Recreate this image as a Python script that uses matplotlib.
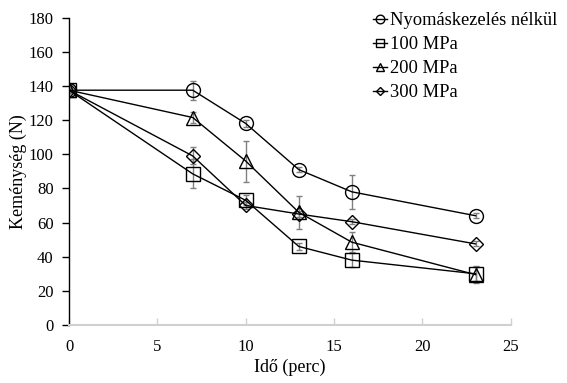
import matplotlib
matplotlib.use("Agg")
import matplotlib.pyplot as plt
from matplotlib.lines import Line2D

plt.rcParams['font.family'] = ['Liberation Serif', 'DejaVu Serif']

# Time points (minutes)
time_min = [0, 7, 10, 13, 16, 23]

series_labels = ["Nyomáskezelés nélkül", "100 MPa", "200 MPa", "300 MPa"]

hardness_control = [137.5, 137.5, 118, 91, 78, 64]
hardness_100 = [137.5, 88.5, 73, 46, 38, 30]
hardness_200 = [137.5, 121.5, 96, 66, 48.5, 29.5]
hardness_300 = [137.5, 99, 70, 65, 60.5, 47.5]

err_control = [1.5, 5.5, 2, 1.5, 10, 1.5]
err_100 = [1.5, 8.5, 3, 2, 4, 4]
err_200 = [1.5, 3, 12, 9.5, 6, 5]
err_300 = [1.5, 5, 2, 1.5, 1.5, 1.5]

values = [hardness_control, hardness_100, hardness_200, hardness_300]
errors = [err_control, err_100, err_200, err_300]
markers = ["o", "s", "^", "D"]
msizes = [10, 9.5, 10, 7]

fig = plt.figure(figsize=(5.67, 3.83), dpi=100)
ax = fig.add_axes([0.1217, 0.1514, 0.7793, 0.8026])

for y, e, m, ms in zip(values, errors, markers, msizes):
    ax.errorbar(time_min, y, yerr=e, fmt="none", ecolor="#808080",
                elinewidth=1.0, capsize=2.5, capthick=1.0, zorder=2)
    ax.plot(time_min, y, color="black", lw=1.0, marker=m, ms=ms,
            mfc="none", mec="black", mew=1.0, zorder=3)

ax.set_xlim(0, 25)
ax.set_ylim(0, 180)
ax.set_xticks([0, 5, 10, 15, 20, 25])
ax.set_yticks(range(0, 181, 20))

for s in ("top", "right"):
    ax.spines[s].set_visible(False)
ax.spines["left"].set_color("black")
ax.spines["left"].set_linewidth(1.0)
ax.spines["bottom"].set_color("#d0d0d0")
ax.spines["bottom"].set_linewidth(1.5)

ax.tick_params(axis="y", direction="out", length=5, width=1.0, color="black",
               labelsize=12, pad=6)
ax.tick_params(axis="x", direction="in", length=5, width=1.0, color="#d0d0d0",
               labelsize=12, pad=10)

ax.set_xlabel("Idő (perc)", fontsize=13, labelpad=3)
ax.set_ylabel("Keménység (N)", fontsize=13, labelpad=1)

handles = [Line2D([], [], color="black", lw=1.0, marker=m, ms=ms * 0.62,
                  mfc="none", mec="black", mew=1.0)
           for m, ms in zip(markers, msizes)]
leg = fig.legend(handles, series_labels, loc="upper left",
                 bbox_to_anchor=(0.636, 1.0), frameon=False, fontsize=13.3,
                 handlelength=0.8, handletextpad=0.12, labelspacing=0.38,
                 borderpad=0.15)

fig.savefig("out.png", dpi=100)
